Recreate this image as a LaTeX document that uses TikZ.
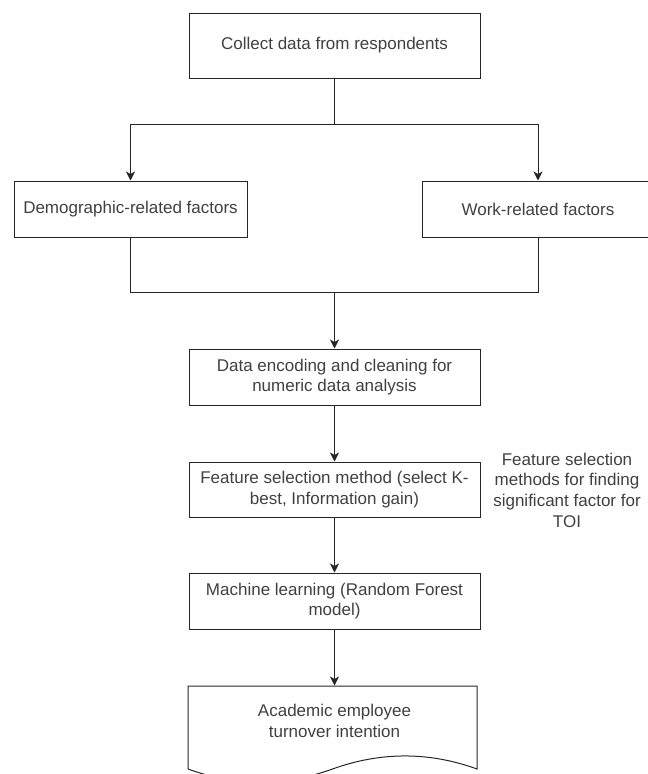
\documentclass[tikz,border=0pt]{standalone}
\usepackage{fontspec}
\setmainfont{Liberation Sans}
\usetikzlibrary{arrows.meta}

\begin{document}
\begin{tikzpicture}[x=1pt, y=-1pt, line width=1pt,
  stepbox/.style={draw=black!85, text=black!75, minimum width=291pt,
    minimum height=56pt, inner sep=0pt, align=center,
    font=\fontsize{17}{20.7}\selectfont},
  notetext/.style={text=black!75, inner sep=0pt, align=center,
    font=\fontsize{17}{20.7}\selectfont},
  flow/.style={draw=black!85, -{Stealth[length=9pt,width=9pt,inset=2.5pt]}},
  wire/.style={draw=black!85}]
  \useasboundingbox (0,0) rectangle (648,774);
  \clip (0,0) rectangle (648,774);
  % Steps of the study
  \node[stepbox, minimum height=65pt] (collect) at (334.5,45.5) {Collect data from respondents};
  \node[stepbox, minimum width=233pt] (demo) at (130.5,209) {Demographic-related factors};
  \node[stepbox, minimum width=232pt] (work) at (538,209) {Work-related factors};
  \node[stepbox] (encode) at (334.5,377) {Data encoding and cleaning for\\numeric data analysis};
  \node[stepbox, minimum height=55pt] (select) at (334.5,489.5) {Feature selection method (select K-\\best, Information gain)};
  \node[stepbox] (learn) at (334.5,601) {Machine learning (Random Forest\\model)};
  \node[notetext] (note) at (567,490) {Feature selection\\methods for finding\\significant factor for\\TOI};
  % Output document (wavy bottom)
  \node[notetext, minimum width=289pt, minimum height=70pt] (outcome) at (334.5,721) {Academic employee\\turnover intention};
  \draw[draw=black!85] (188,686) -- (477,686) -- (477,769)
    .. controls (429,751.6) and (380.8,751.6) .. (332.5,769)
    .. controls (284.3,786.4) and (236.2,786.4) .. (188,769) -- cycle;
  % Split and merge of the factors
  \coordinate (split) at (334.5,124);
  \coordinate (merge) at (334.5,292);
  \draw[wire] (collect.south) -- (split);
  \draw[flow] (split) -| (demo.north);
  \draw[flow] (split) -| (work.north);
  \draw[wire] (demo.south) |- (merge);
  \draw[wire] (work.south) |- (merge);
  \draw[flow] (merge) -- (encode.north);
  % Main flow
  \draw[flow] (encode) -- (select);
  \draw[flow] (select) -- (learn);
  \draw[flow] (learn) -- (outcome);
\end{tikzpicture}
\end{document}
